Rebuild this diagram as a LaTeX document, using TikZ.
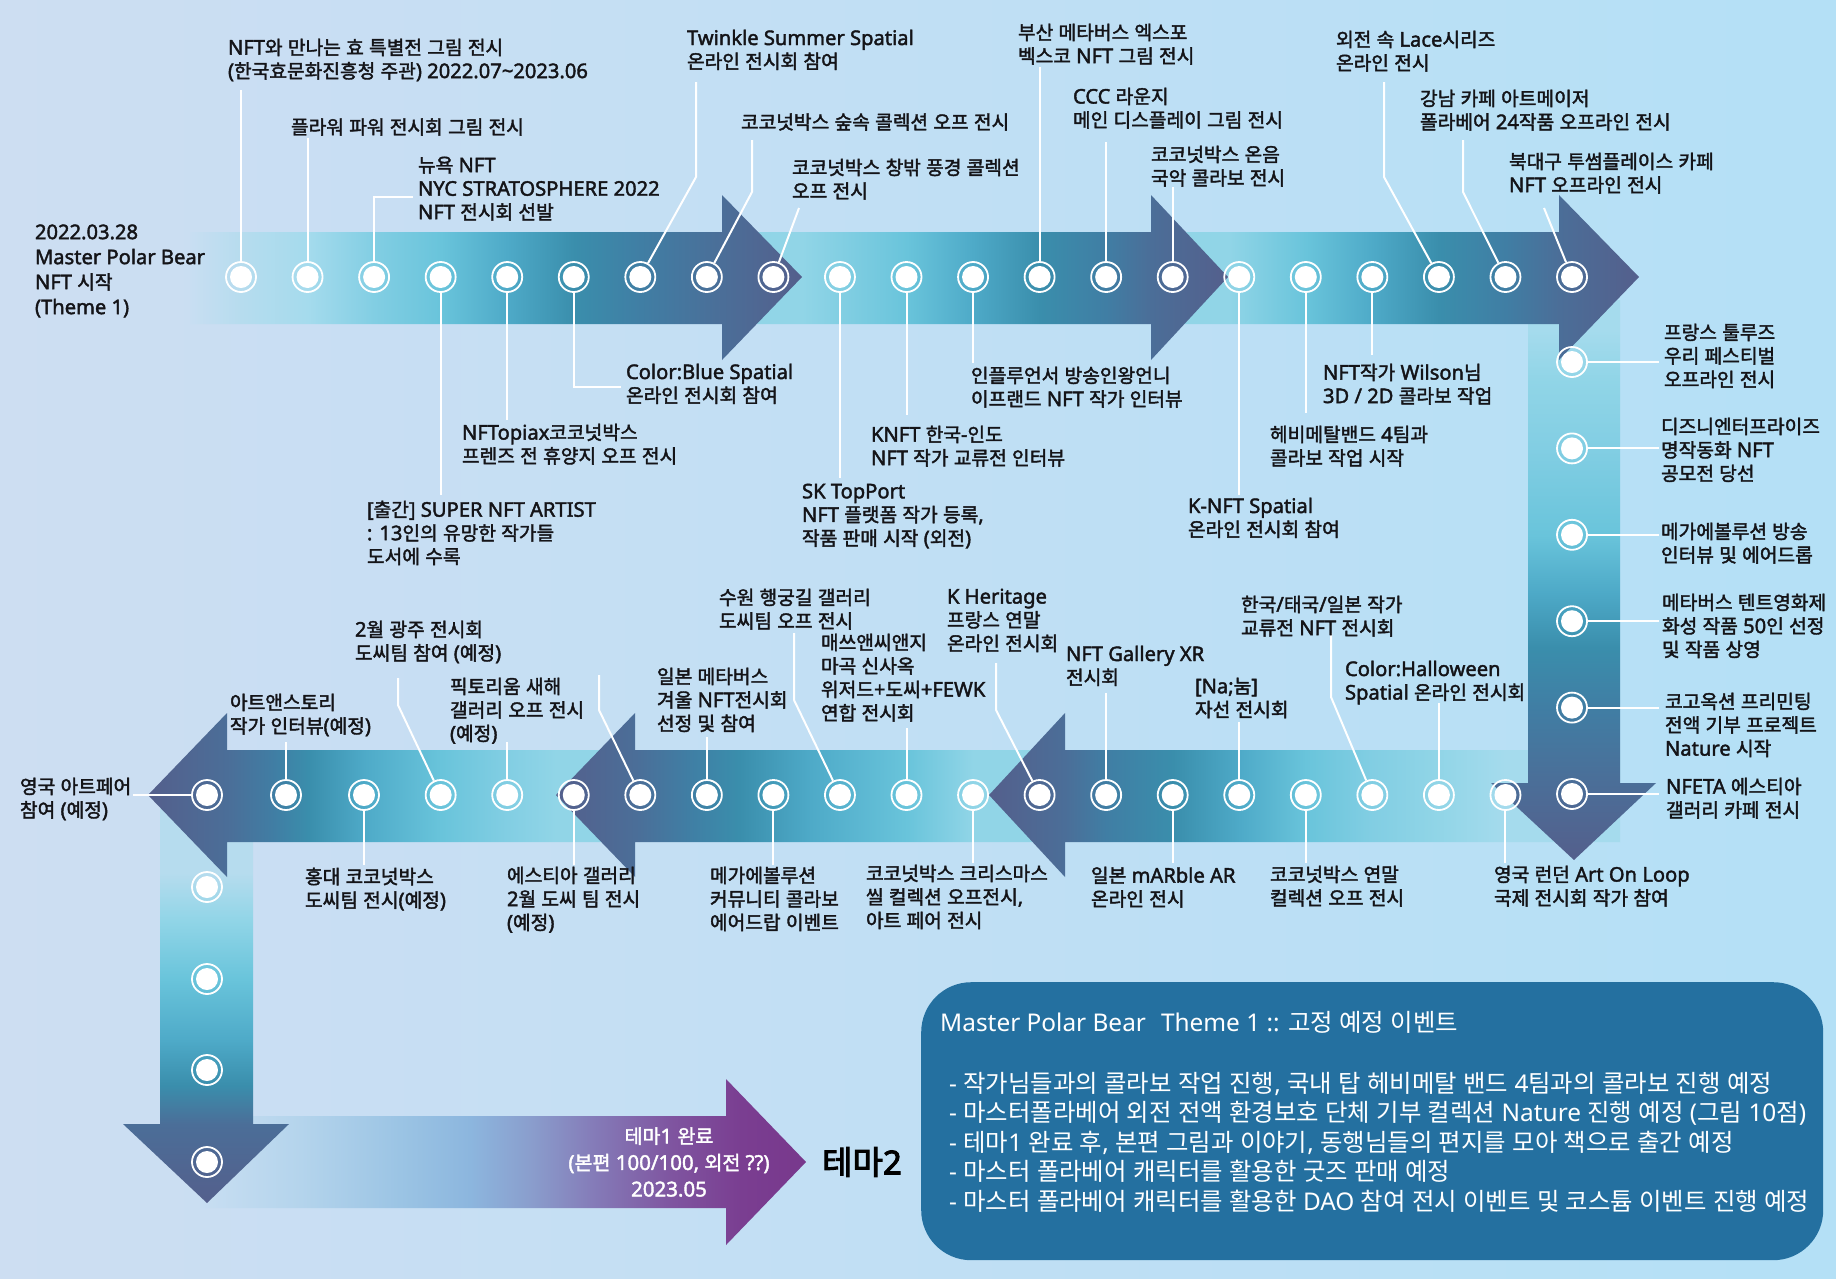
\documentclass[tikz,border=0pt]{standalone}
\usepackage{fontspec}
\setmainfont{Noto Sans}[Scale=1.05]
\newfontfamily\krR{Noto Sans CJK KR}
\newfontfamily\krM{Noto Sans CJK KR}[FakeBold=2]
\newfontfamily\krB{Noto Sans CJK KR}[FakeBold=3]
\newfontfamily\laR{Noto Sans}[Scale=1.05]
\newfontfamily\laM{Noto Sans}[Scale=1.05,FakeBold=2]
\newfontfamily\laB{Noto Sans}[FakeBold=3]
\newfontfamily\laX{Noto Sans}
\def\KRsw{\krR}
\def\LAsw{\laR}
\XeTeXinterchartokenstate=1
\chardef\krclass=7
\count255="AC00
\loop
\XeTeXcharclass\count255=\krclass
\advance\count255 by 1
\ifnum\count255<"D7A4
\repeat
\XeTeXinterchartoks 0 \krclass = {\KRsw}
\XeTeXinterchartoks 4095 \krclass = {\KRsw}
\XeTeXinterchartoks \krclass 0 = {\LAsw}
\XeTeXinterchartoks \krclass 4095 = {\LAsw}

\definecolor{bgL}{RGB}{205,222,242}
\definecolor{bgR}{RGB}{180,224,246}
\definecolor{P0}{RGB}{84,95,140}
\definecolor{P1}{RGB}{75,110,152}
\definecolor{P2}{RGB}{64,126,164}
\definecolor{P3}{RGB}{58,142,172}
\definecolor{P4}{RGB}{78,170,200}
\definecolor{P5}{RGB}{105,196,219}
\definecolor{P6}{RGB}{130,206,227}
\definecolor{P7}{RGB}{145,213,231}
\definecolor{P8}{RGB}{165,219,237}
\definecolor{P9}{RGB}{182,220,238}
\definecolor{PA}{RGB}{200,222,242}
\definecolor{U0}{RGB}{200,222,242}
\definecolor{U1}{RGB}{180,212,236}
\definecolor{U2}{RGB}{155,196,228}
\definecolor{U3}{RGB}{140,182,222}
\definecolor{U4}{RGB}{138,158,205}
\definecolor{U5}{RGB}{132,120,182}
\definecolor{U6}{RGB}{127,85,160}
\definecolor{U7}{RGB}{122,62,145}
\definecolor{U8}{RGB}{120,56,140}
\definecolor{boxblue}{RGB}{36,112,160}
\definecolor{labeltext}{RGB}{20,20,24}

\pgfdeclarehorizontalshading{segA}{100bp}{color(0bp)=(PA); color(25bp)=(PA); color(29.2bp)=(P9); color(34.6bp)=(P8); color(40bp)=(P6); color(45.5bp)=(P5); color(50.9bp)=(P4); color(56.4bp)=(P3); color(61.8bp)=(P2); color(68.5bp)=(P1); color(75bp)=(P0); color(100bp)=(P0)}
\pgfdeclarehorizontalshading{segB}{100bp}{color(0bp)=(P7); color(25bp)=(P7); color(32.9bp)=(P7); color(43.3bp)=(P5); color(49.8bp)=(P4); color(56.4bp)=(P3); color(62.9bp)=(P2); color(67.4bp)=(P1); color(75bp)=(P0); color(100bp)=(P0)}
\pgfdeclarehorizontalshading{segC}{100bp}{color(0bp)=(P7); color(25bp)=(P7); color(32.9bp)=(P7); color(40.9bp)=(P5); color(47.7bp)=(P4); color(54.5bp)=(P3); color(61.3bp)=(P2); color(66.8bp)=(P1); color(75bp)=(P0); color(100bp)=(P0)}
\pgfdeclarehorizontalshading{botA}{100bp}{color(0bp)=(P0); color(25bp)=(P0); color(31bp)=(P1); color(34.3bp)=(P2); color(39.6bp)=(P3); color(44.9bp)=(P4); color(50.1bp)=(P5); color(55.4bp)=(P6); color(60.6bp)=(P7); color(65.9bp)=(P8); color(75bp)=(P8); color(100bp)=(P8)}
\pgfdeclarehorizontalshading{botB}{100bp}{color(0bp)=(P0); color(25bp)=(P0); color(32.8bp)=(P1); color(38bp)=(P2); color(43bp)=(P3); color(50bp)=(P4); color(59.5bp)=(P5); color(66bp)=(P7); color(75bp)=(P7); color(100bp)=(P7)}
\pgfdeclarehorizontalshading{botC}{100bp}{color(0bp)=(P0); color(25bp)=(P0); color(33.1bp)=(P1); color(38bp)=(P2); color(41.5bp)=(P3); color(47.2bp)=(P4); color(55.1bp)=(P5); color(61.9bp)=(P6); color(66.9bp)=(P7); color(75bp)=(P7); color(100bp)=(P7)}
\pgfdeclareverticalshading{vertR}{100bp}{color(0bp)=(P0); color(25bp)=(P0); color(31.9bp)=(P1); color(38.7bp)=(P2); color(44bp)=(P3); color(49bp)=(P4); color(54bp)=(P5); color(61.8bp)=(P6); color(68bp)=(P7); color(72.3bp)=(P8); color(75bp)=(P8); color(100bp)=(P8)}
\pgfdeclareverticalshading{vertL}{100bp}{color(0bp)=(P0); color(25bp)=(P0); color(34.8bp)=(P1); color(39.6bp)=(P3); color(45.2bp)=(P4); color(52.8bp)=(P5); color(60.1bp)=(P7); color(66bp)=(P9); color(75bp)=(P9); color(100bp)=(P9)}
\pgfdeclarehorizontalshading{purp}{100bp}{color(0bp)=(U0); color(25bp)=(U0); color(33.3bp)=(U1); color(41.5bp)=(U2); color(47.3bp)=(U3); color(52.2bp)=(U4); color(58bp)=(U5); color(63.8bp)=(U6); color(69.6bp)=(U7); color(75bp)=(U8); color(100bp)=(U8)}

\newcommand{\lblfont}{\def\KRsw{\krM}\def\LAsw{\laM}\laM\fontsize{19.2}{23.5}\selectfont}
\newcommand{\boxfont}{\def\KRsw{\krR}\def\LAsw{\laX}\laX\fontsize{24.4}{29.5}\selectfont}
\tikzset{
  lbl/.style={anchor=north west, inner sep=0pt, outer sep=0pt, align=left, text=labeltext, font=\lblfont, execute at begin node=\strut},
  conn/.style={draw=white, line width=2pt},
  dot/.style={circle, minimum size=30pt, inner sep=0pt, draw=white, line width=1.8pt,
    path picture={\fill[white] (path picture bounding box.center) circle (11pt);}},
  boxtxt/.style={anchor=north west, inner sep=0pt, align=left, text=white, font=\boxfont, execute at begin node=\strut},
}

\begin{document}
\begin{tikzpicture}[x=1pt,y=-1pt]
\useasboundingbox (0,0) rectangle (1836,1278);
\shade[left color=bgL,right color=bgR] (0,0) rectangle (1836,1278);

% theme complete band
\shade[shading=purp] (200,1116) -- (726,1116) -- (726,1079) -- (806,1162) -- (726,1245) -- (726,1208) -- (200,1208) -- cycle;
% left vertical arrow
\shade[shading=vertL] (160,800) -- (253,800) -- (253,1124) -- (289,1124) -- (207,1203) -- (123,1124) -- (160,1124) -- cycle;
% bottom row arrows (pointing left)
\shade[shading=botC] (148,795) -- (227,713) -- (227,750) -- (635,750) -- (635,842) -- (227,842) -- (227,877) -- cycle;
\shade[shading=botB] (556,795) -- (635,713) -- (635,750) -- (1065,750) -- (1065,842) -- (635,842) -- (635,877) -- cycle;
\shade[shading=botA] (989,795) -- (1065,713) -- (1065,750) -- (1620,750) -- (1620,842) -- (1065,842) -- (1065,877) -- cycle;
% right vertical arrow
\shade[shading=vertR] (1528,300) -- (1620,300) -- (1620,783) -- (1656,783) -- (1574,860) -- (1491,783) -- (1528,783) -- cycle;
% top row arrows
\shade[shading=segC] (1151,232) -- (1559,232) -- (1559,195) -- (1639,277) -- (1559,360) -- (1559,324) -- (1151,324) -- cycle;
\shade[shading=segB] (722,232) -- (1151,232) -- (1151,195) -- (1228,277) -- (1151,360) -- (1151,324) -- (722,324) -- cycle;
\shade[shading=segA] (190,232) -- (722,232) -- (722,195) -- (802,277) -- (722,360) -- (722,324) -- (190,324) -- cycle;

% circles
\foreach \i in {1,...,21} \node[dot] (t\i) at ({241+66.55*(\i-1)},277) {};
\node[dot] (b1) at (207,795) {};
\node[dot] (b2) at (286,795) {};
\node[dot] (b3) at (364,795) {};
\foreach \i in {4,...,20} \node[dot] (b\i) at ({440.65+66.55*(\i-4)},795) {};
\foreach \i in {1,...,6} \node[dot] (v\i) at (1572,{362+86.4*(\i-1)}) {};
\foreach \i/\yy in {1/887,2/979,3/1070,4/1162} \node[dot] (l\i) at (207,\yy) {};

% connector end points
\coordinate (et1) at (t1 |- 0,90);
\coordinate (et2) at (t2 |- 0,138);
\coordinate (et3) at (413,197);
\coordinate (et4) at (t4 |- 0,495);
\coordinate (et5) at (t5 |- 0,420);
\coordinate (et6) at (621,387);
\coordinate (et7a) at (696,177); \coordinate (et7b) at (696,82);
\coordinate (et8a) at (752,192); \coordinate (et8b) at (752,140);
\coordinate (et9) at (799,208);
\coordinate (et10) at (t10 |- 0,478);
\coordinate (et11) at (t11 |- 0,415);
\coordinate (et12) at (t12 |- 0,363);
\coordinate (et13) at (t13 |- 0,67);
\coordinate (et14) at (t14 |- 0,142);
\coordinate (et15) at (t15 |- 0,187);
\coordinate (et16) at (t16 |- 0,495);
\coordinate (et17) at (t17 |- 0,413);
\coordinate (et18) at (t18 |- 0,355);
\coordinate (et19a) at (1384,177); \coordinate (et19b) at (1384,82);
\coordinate (et20a) at (1463,192); \coordinate (et20b) at (1463,140);
\coordinate (et21) at (1544,208);
\foreach \i in {1,...,6} \coordinate (ev\i) at (1659,{362+86.4*(\i-1)});
\coordinate (eb1) at (133,795);
\coordinate (eb2) at (b2 |- 0,742);
\coordinate (eb3) at (b3 |- 0,865);
\coordinate (eb4a) at (398,705); \coordinate (eb4b) at (398,678);
\coordinate (eb5) at (b5 |- 0,742);
\coordinate (eb6) at (b6 |- 0,865);
\coordinate (eb7a) at (599,710); \coordinate (eb7b) at (599,675);
\coordinate (eb8) at (b8 |- 0,737);
\coordinate (eb9) at (b9 |- 0,865);
\coordinate (eb10a) at (794,700); \coordinate (eb10b) at (794,633);
\coordinate (eb11) at (b11 |- 0,728);
\coordinate (eb12) at (b12 |- 0,863);
\coordinate (eb13a) at (996,710); \coordinate (eb13b) at (996,663);
\coordinate (eb14) at (b14 |- 0,693);
\coordinate (eb15) at (b15 |- 0,863);
\coordinate (eb16) at (b16 |- 0,722);
\coordinate (eb17) at (b17 |- 0,863);
\coordinate (eb18a) at (1331,697); \coordinate (eb18b) at (1331,633);
\coordinate (eb19) at (b19 |- 0,703);
\coordinate (eb20) at (b20 |- 0,863);

% connectors
\draw[conn] (t1) -- (et1);
\draw[conn] (t2) -- (et2);
\draw[conn] (t3.north) |- (et3);
\draw[conn] (t4) -- (et4);
\draw[conn] (t5) -- (et5);
\draw[conn] (t6.south) |- (et6);
\draw[conn] (t7) -- (et7a) -- (et7b);
\draw[conn] (t8) -- (et8a) -- (et8b);
\draw[conn] (t9) -- (et9);
\foreach \i in {10,...,18} \draw[conn] (t\i) -- (et\i);
\draw[conn] (t19) -- (et19a) -- (et19b);
\draw[conn] (t20) -- (et20a) -- (et20b);
\draw[conn] (t21) -- (et21);
\foreach \i in {1,...,6} \draw[conn] (v\i) -- (ev\i);
\foreach \i in {1,2,3,5,6,8,9,11,12,14,15,16,17,19,20} \draw[conn] (b\i) -- (eb\i);
\foreach \i in {4,7,10,13,18} \draw[conn] (b\i) -- (eb\i a) -- (eb\i b);

% top labels
\node[lbl, font=\lblfont\fontsize{19.2}{25}\selectfont] (L0) at (35,224.5) {2022.03.28\\Master Polar Bear\\NFT 시작\\(Theme 1)};
\node[lbl] (T1) at (228,38.7) {NFT와 만나는 효 특별전 그림 전시\\(한국효문화진흥청 주관) 2022.07\textasciitilde 2023.06};
\node[lbl] (T2) at (291,117.7) {플라워 파워 전시회 그림 전시};
\node[lbl] (T3) at (418,156.7) {뉴욕 NFT\\NYC STRATOSPHERE 2022\\NFT 전시회 선발};
\node[lbl] (T4) at (367,500.7) {[출간] SUPER NFT ARTIST\\: 13인의 유망한 작가들\\도서에 수록};
\node[lbl] (T5) at (462,423.7) {NFTopiax코코넛박스\\프렌즈 전 휴양지 오프 전시};
\node[lbl] (T6) at (626,363.7) {Color:Blue Spatial\\온라인 전시회 참여};
\node[lbl] (T7) at (687,29.7) {Twinkle Summer Spatial\\온라인 전시회 참여};
\node[lbl] (T8) at (741,112.7) {코코넛박스 숲속 콜렉션 오프 전시};
\node[lbl] (T9) at (792,158.7) {코코넛박스 창밖 풍경 콜렉션\\오프 전시};
\node[lbl] (T10) at (802,483.7) {SK TopPort\\NFT 플랫폼 작가 등록,\\작품 판매 시작 (외전)};
\node[lbl] (T11) at (871,425.7) {KNFT 한국-인도\\NFT 작가 교류전 인터뷰};
\node[lbl] (T12) at (971,366.7) {인플루언서 방송인왕언니\\이프랜드 NFT 작가 인터뷰};
\node[lbl] (T13) at (1018,23.7) {부산 메타버스 엑스포\\벡스코 NFT 그림 전시};
\node[lbl] (T14) at (1073,87.7) {CCC 라운지\\메인 디스플레이 그림 전시};
\node[lbl] (T15) at (1151,145.7) {코코넛박스 온음\\국악 콜라보 전시};
\node[lbl] (T16) at (1188,497.7) {K-NFT Spatial\\온라인 전시회 참여};
\node[lbl] (T17) at (1270,425.7) {헤비메탈밴드 4팀과\\콜라보 작업 시작};
\node[lbl] (T18) at (1323,363.7) {NFT작가 Wilson님\\3D / 2D 콜라보 작업};
\node[lbl] (T19) at (1336,30.7) {외전 속 Lace시리즈\\온라인 전시};
\node[lbl] (T20) at (1420,89.7) {강남 카페 아트메이저\\폴라베어 24작품 오프라인 전시};
\node[lbl] (T21) at (1509,152.7) {북대구 투썸플레이스 카페\\NFT 오프라인 전시};
% right labels
\node[lbl] (V1) at (1664,323.7) {프랑스 툴루즈\\우리 페스티벌\\오프라인 전시};
\node[lbl] (V2) at (1661,417.7) {디즈니엔터프라이즈\\명작동화 NFT\\공모전 당선};
\node[lbl] (V3) at (1661,522.7) {메가에볼루션 방송\\인터뷰 및 에어드롭};
\node[lbl] (V4) at (1662,593.7) {메타버스 텐트영화제\\화성 작품 50인 선정\\및 작품 상영};
\node[lbl] (V5) at (1665,692.7) {코고옥션 프리민팅\\전액 기부 프로젝트\\Nature 시작};
\node[lbl] (V6) at (1666,777.7) {NFETA 에스티아\\갤러리 카페 전시};
% bottom labels
\node[lbl] (B1) at (20,777.7) {영국 아트페어\\참여 (예정)};
\node[lbl] (B2) at (230,693.7) {아트앤스토리\\작가 인터뷰(예정)};
\node[lbl] (B3) at (305,867.7) {홍대 코코넛박스\\도씨팀 전시(예정)};
\node[lbl] (B4) at (355,620.7) {2월 광주 전시회\\도씨팀 참여 (예정)};
\node[lbl] (B5) at (450,677.7) {픽토리움 새해\\갤러리 오프 전시\\(예정)};
\node[lbl] (B6) at (507,866.7) {에스티아 갤러리\\2월 도씨 팀 전시\\(예정)};
\node[lbl] (B8) at (657,667.7) {일본 메타버스\\겨울 NFT전시회\\선정 및 참여};
\node[lbl] (B9) at (710,866.7) {메가에볼루션\\커뮤니티 콜라보\\에어드랍 이벤트};
\node[lbl] (B10) at (719,588.7) {수원 행궁길 갤러리\\도씨팀 오프 전시};
\node[lbl] (B11) at (821,633.7) {매쓰앤씨앤지\\마곡 신사옥\\위저드+도씨+FEWK\\연합 전시회};
\node[lbl] (B12) at (866,864.7) {코코넛박스 크리스마스\\씰 컬렉션 오프전시,\\아트 페어 전시};
\node[lbl] (B13) at (947,588.7) {K Heritage\\프랑스 연말\\온라인 전시회};
\node[lbl] (B14) at (1066,645.7) {NFT Gallery XR\\전시회};
\node[lbl] (B15) at (1091,866.7) {일본 mARble AR\\온라인 전시};
\node[lbl] (B16) at (1195,677.7) {[Na;눔]\\자선 전시회};
\node[lbl] (B17) at (1270,865.7) {코코넛박스 연말\\컬렉션 오프 전시};
\node[lbl] (B18) at (1241,595.7) {한국/태국/일본 작가\\교류전 NFT 전시회};
\node[lbl] (B19) at (1345,660.7) {Color:Halloween\\Spatial 온라인 전시회};
\node[lbl] (B20) at (1494,865.7) {영국 런던 Art On Loop\\국제 전시회 작가 참여};

% theme complete
\node[text=white, align=center, inner sep=0pt, font=\lblfont\fontsize{19.5}{26.5}\selectfont] (done) at (669,1162) {테마1 완료\\(본편 100/100, 외전 ??)\\2023.05};
\node[text=black, inner sep=0pt, font=\def\KRsw{\krB}\def\LAsw{\laB}\laB\fontsize{33}{36}\selectfont] (theme2) at (862,1162) {테마2};

% info box
\node[fill=boxblue, rounded corners=50pt, minimum width=902pt, minimum height=278pt, anchor=north west, inner sep=0pt] (box) at (921,982) {};
\node[boxtxt] (boxtitle) at (940,1011) {Master Polar Bear\hspace{15pt}Theme 1 :: 고정 예정 이벤트};
\node[boxtxt] (boxbody) at (949,1072) {- 작가님들과의 콜라보 작업 진행, 국내 탑 헤비메탈 밴드 4팀과의 콜라보 진행 예정\\- 마스터폴라베어 외전 전액 환경보호 단체 기부 컬렉션 Nature 진행 예정 (그림 10점)\\- 테마1 완료 후, 본편 그림과 이야기, 동행님들의 편지를 모아 책으로 출간 예정\\- 마스터 폴라베어 캐릭터를 활용한 굿즈 판매 예정\\- 마스터 폴라베어 캐릭터를 활용한 DAO 참여 전시 이벤트 및 코스튬 이벤트 진행 예정};
\end{tikzpicture}
\end{document}
